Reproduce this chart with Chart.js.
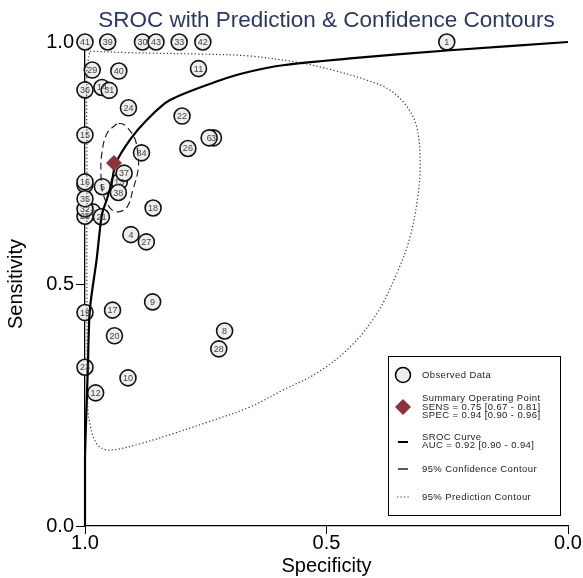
<!DOCTYPE html>
<html>
<head>
<meta charset="utf-8">
<script src="https://cdn.jsdelivr.net/npm/chart.js@4.4.1/dist/chart.umd.min.js"></script>
<style>
    html, body { margin: 0; padding: 0; background: #fff; }
    #wrap { width: 583px; height: 578px; }
</style>
</head>
<body>
<div id="wrap"><canvas id="sroc"></canvas></div>
<script>
const fontFamily = "'Liberation Sans', Arial, sans-serif";

// observed studies (id, specificity, sensitivity)
const studyIds = [1, 2, 3, 4, 5, 6, 7, 8, 9, 10, 11, 12, 13, 14, 15, 16, 17, 18, 19, 20, 21, 22,
    23, 24, 25, 26, 27, 28, 29, 30, 31, 32, 33, 34, 35, 36, 37, 38, 39, 40, 41, 42, 43];
const studySpec = [0.251, 0.984, 0.734, 0.905, 0.964, 0.743, 1.0, 0.711, 0.86, 0.911, 0.765,
    0.978, 0.929, 0.965, 1.0, 1.0, 0.943, 0.859, 1.0, 0.939, 0.966, 0.799, 1.0, 0.91, 1.0,
    0.787, 0.873, 0.723, 0.985, 0.881, 0.95, 1.0, 0.805, 0.883, 1.0, 1.0, 0.919, 0.931,
    0.953, 0.93, 1.0, 0.756, 0.853];
const studySens = [1.0, 0.649, 0.802, 0.602, 0.701, 0.802, 0.705, 0.403, 0.463, 0.306, 0.945,
    0.275, 0.711, 0.906, 0.808, 0.711, 0.446, 0.657, 0.441, 0.393, 0.639, 0.847, 0.328,
    0.864, 0.64, 0.78, 0.587, 0.366, 0.942, 1.0, 0.9, 0.655, 1.0, 0.771, 0.676, 0.901,
    0.729, 0.689, 1.0, 0.94, 1.0, 1.0, 1.0];

// summary operating point
const summarySpec = [0.94];
const summarySens = [0.75];

// SROC curve
const srocSpec = [1.0, 1.0, 0.997, 0.994, 0.99, 0.976, 0.965, 0.955, 0.945, 0.936, 0.907,
    0.872, 0.824, 0.72, 0.658, 0.59, 0.451, 0.244, 0.0];
const srocSens = [0.0, 0.136, 0.24, 0.329, 0.446, 0.55, 0.643, 0.674, 0.708, 0.75, 0.798,
    0.839, 0.88, 0.921, 0.939, 0.952, 0.966, 0.983, 1.0];

// 95% confidence contour
const confSpec = [0.934, 0.954, 0.965, 0.967, 0.963, 0.948, 0.932, 0.913, 0.901, 0.89, 0.89,
    0.896, 0.911, 0.923, 0.934];
const confSens = [0.831, 0.812, 0.771, 0.729, 0.688, 0.657, 0.649, 0.659, 0.694, 0.736, 0.762,
    0.798, 0.822, 0.831, 0.831];

// 95% prediction contour
const predSpec = [0.99, 0.907, 0.762, 0.658, 0.555, 0.487, 0.416, 0.369, 0.333, 0.313, 0.306,
    0.311, 0.327, 0.354, 0.395, 0.451, 0.52, 0.59, 0.658, 0.745, 0.814, 0.882, 0.944, 0.969,
    0.983, 0.99, 0.994, 0.996, 0.996, 0.996, 0.99];
const predSens = [0.981, 0.978, 0.975, 0.971, 0.957, 0.942, 0.921, 0.901, 0.866, 0.824, 0.75,
    0.68, 0.597, 0.523, 0.44, 0.37, 0.316, 0.281, 0.246, 0.215, 0.192, 0.171, 0.157, 0.163,
    0.184, 0.213, 0.24, 0.467, 0.777, 0.942, 0.981];

const axisTicks = [0, 0.5, 1];

const toPoints = (xs, ys) => xs.map((x, i) => ({ x: x, y: ys[i] }));

const circleFill = "#eeeeee";
const diamondColor = "#8c3339";

// numbers inside the study circles; a number fully covered by a later circle is skipped
const studyLabels = {
    id: "studyLabels",
    afterDatasetsDraw(chart) {
        const ctx = chart.ctx;
        const pts = chart.getDatasetMeta(4).data;
        ctx.save();
        ctx.font = "9px " + fontFamily;
        ctx.fillStyle = "#444";
        ctx.textAlign = "center";
        ctx.textBaseline = "middle";
        pts.forEach((p, i) => {
            const hidden = pts.some((q, j) => j > i && Math.hypot(q.x - p.x, q.y - p.y) < 3);
            if (!hidden) ctx.fillText(String(studyIds[i]), p.x, p.y + 0.5);
        });
        ctx.restore();
    },
};

const legendBox = {
    id: "legendBox",
    afterDraw(chart) {
        const { ctx, chartArea } = chart;
        const left = chartArea.right - 180;
        const top = chartArea.bottom - 170;
        const mx = left + 15;
        const tx = left + 34;
        ctx.save();
        ctx.fillStyle = "#fff";
        ctx.fillRect(left, top, 172, 159);
        ctx.strokeStyle = "#000";
        ctx.lineWidth = 1;
        ctx.strokeRect(left + 0.5, top + 0.5, 172, 159);

        // circle
        ctx.beginPath();
        ctx.arc(mx, top + 19, 7.5, 0, Math.PI * 2);
        ctx.fillStyle = circleFill;
        ctx.fill();
        ctx.lineWidth = 1.6;
        ctx.stroke();

        // diamond
        ctx.beginPath();
        ctx.moveTo(mx, top + 43);
        ctx.lineTo(mx + 8, top + 51);
        ctx.lineTo(mx, top + 59);
        ctx.lineTo(mx - 8, top + 51);
        ctx.closePath();
        ctx.fillStyle = diamondColor;
        ctx.fill();

        // line samples
        ctx.strokeStyle = "#000";
        ctx.lineWidth = 2;
        ctx.beginPath();
        ctx.moveTo(mx - 5, top + 86);
        ctx.lineTo(mx + 5, top + 86);
        ctx.stroke();
        ctx.lineWidth = 1.3;
        ctx.beginPath();
        ctx.moveTo(mx - 5, top + 113);
        ctx.lineTo(mx + 5, top + 113);
        ctx.stroke();
        ctx.lineWidth = 1.2;
        ctx.strokeStyle = "#333";
        ctx.setLineDash([1.2, 2.3]);
        ctx.beginPath();
        ctx.moveTo(mx - 6, top + 141);
        ctx.lineTo(mx + 6, top + 141);
        ctx.stroke();
        ctx.setLineDash([]);

        ctx.fillStyle = "#222";
        ctx.font = "9.5px " + fontFamily;
        ctx.letterSpacing = "0.4px";
        ctx.textAlign = "left";
        ctx.textBaseline = "middle";
        ctx.fillText("Observed Data", tx, top + 19);
        ctx.fillText("Summary Operating Point", tx, top + 42.5);
        ctx.fillText("SENS = 0.75 [0.67 - 0.81]", tx, top + 51);
        ctx.fillText("SPEC = 0.94 [0.90 - 0.96]", tx, top + 59.5);
        ctx.fillText("SROC Curve", tx, top + 81);
        ctx.fillText("AUC = 0.92 [0.90 - 0.94]", tx, top + 89.5);
        ctx.fillText("95% Confidence Contour", tx, top + 113);
        ctx.fillText("95% Prediction Contour", tx, top + 141);
        ctx.restore();
    },
};

const axisFont = { family: fontFamily, size: 20 };

new Chart(document.getElementById("sroc"), {
    type: "scatter",
    data: {
        datasets: [
            {
                label: "Summary Operating Point",
                data: toPoints(summarySpec, summarySens),
                pointStyle: "rectRot",
                pointRadius: 8,
                pointBackgroundColor: diamondColor,
                pointBorderColor: diamondColor,
                pointBorderWidth: 0,
                clip: false,
            },
            {
                label: "SROC Curve",
                data: toPoints(srocSpec, srocSens),
                showLine: true,
                pointRadius: 0,
                borderColor: "#000",
                borderWidth: 2.2,
                tension: 0.3,
                clip: false,
            },
            {
                label: "95% Confidence Contour",
                data: toPoints(confSpec, confSens),
                showLine: true,
                pointRadius: 0,
                borderColor: "#222",
                borderWidth: 1.2,
                borderDash: [7, 4],
                tension: 0.4,
                clip: false,
            },
            {
                label: "95% Prediction Contour",
                data: toPoints(predSpec, predSens),
                showLine: true,
                pointRadius: 0,
                borderColor: "#333",
                borderWidth: 1.2,
                borderDash: [1.2, 2.3],
                tension: 0.35,
                clip: false,
            },
            {
                label: "Observed Data",
                data: toPoints(studySpec, studySens),
                pointRadius: 8,
                pointBackgroundColor: circleFill,
                pointBorderColor: "#111",
                pointBorderWidth: 1.6,
                clip: false,
            },
        ],
    },
    options: {
        responsive: true,
        maintainAspectRatio: false,
        animation: false,
        layout: { padding: { left: 0, right: 15, top: 0, bottom: 0 } },
        scales: {
            x: {
                type: "linear",
                reverse: true,
                min: 0,
                max: 1,
                afterFit: function (scale) {
                    scale.height = 52;
                },
                afterBuildTicks: function (scale) {
                    scale.ticks = axisTicks.map((v) => ({ value: v }));
                },
                grid: { drawOnChartArea: false, drawTicks: true, tickLength: 8, color: "#000" },
                border: { color: "#000", width: 1.3 },
                ticks: {
                    font: axisFont,
                    color: "#000",
                    padding: -3,
                    maxRotation: 0,
                    callback: function (value) {
                        return value.toFixed(1);
                    },
                },
                title: {
                    display: true,
                    text: "Specificity",
                    font: axisFont,
                    color: "#000",
                    padding: { top: 0, bottom: 0 },
                },
            },
            y: {
                min: 0,
                max: 1,
                afterFit: function (scale) {
                    scale.width = 85;
                },
                afterBuildTicks: function (scale) {
                    scale.ticks = axisTicks.map((v) => ({ value: v }));
                },
                grid: { drawOnChartArea: false, drawTicks: true, tickLength: 9, color: "#000" },
                border: { color: "#000", width: 1.3 },
                ticks: {
                    font: axisFont,
                    color: "#000",
                    padding: 2,
                    callback: function (value) {
                        return value.toFixed(1);
                    },
                },
                title: {
                    display: true,
                    text: "Sensitivity",
                    font: axisFont,
                    color: "#000",
                    padding: { top: 4, bottom: 0 },
                },
            },
        },
        plugins: {
            legend: { display: false },
            tooltip: { enabled: false },
            title: {
                display: true,
                text: "SROC with Prediction & Confidence Contours",
                fullSize: false,
                color: "#2a3866",
                font: { family: fontFamily, size: 22.5, weight: "normal", lineHeight: 1.2 },
                padding: { top: 7.5, bottom: 7.5 },
            },
        },
    },
    plugins: [studyLabels, legendBox],
});
</script>
</body>
</html>
